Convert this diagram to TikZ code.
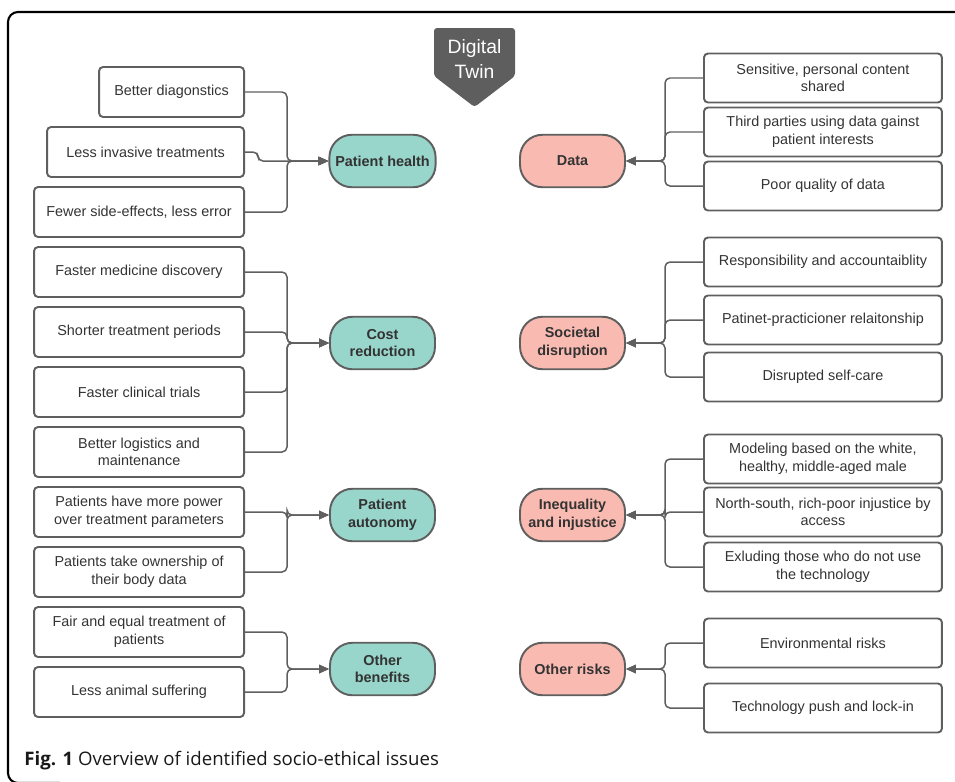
\documentclass[tikz,border=0pt]{standalone}
\usepackage{xcolor}
\usepackage{fontspec}
\setmainfont{Liberation Sans}
\newfontfamily\captionfont{Open Sans}
\usepackage{tikz}
\usetikzlibrary{positioning,arrows.meta}

\definecolor{boxgray}{HTML}{5F5F5F}
\definecolor{textgray}{HTML}{333333}
\definecolor{twingray}{HTML}{5E5E5E}
\definecolor{benefitfill}{HTML}{98D5CA}
\definecolor{riskfill}{HTML}{F9BAB1}

\begin{document}
\begin{tikzpicture}[x=0.02cm, y=-0.02cm, align=center,
    font=\fontsize{8.2}{10}\selectfont,
    item/.style={draw=boxgray, line width=1.1pt, rounded corners=0.08cm, minimum height=1cm, text=textgray, inner sep=1pt},
    good/.style={draw=boxgray, fill=benefitfill, line width=1.1pt, rounded corners=0.45cm, minimum width=2.1cm, minimum height=1.05cm, font=\fontsize{8.2}{10}\selectfont\bfseries, text=textgray},
    bad/.style={good, fill=riskfill},
    link/.style={draw=boxgray, line width=0.85pt, rounded corners=0.1cm, -{Triangle[length=0.2cm,width=0.17cm]}}]
    \useasboundingbox (0,0) rectangle (955,781);

    % frame and title
    \draw[line width=1.2pt, rounded corners=0.2cm] (955,12) -- (8,12) -- (8,783) -- (60,783);
    \fill[twingray, rounded corners=0.06cm] (434,28) -- (515,28) -- (515,76) -- (474.5,107) -- (434,76) -- cycle;
    \node[text=white, font=\fontsize{11}{14}\selectfont] (twin) at (474.5,59) {Digital\\Twin};

    % benefits
    \node[good] (health) at (382.5,161) {Patient health};
    \node[good] (cost) at (382.5,343) {Cost\\reduction};
    \node[good] (autonomy) at (382.5,515) {Patient\\autonomy};
    \node[good] (otherben) at (382.5,669) {Other\\benefits};

    \node[item, anchor=east, minimum width=2.9cm] (diag) at (245,92) {Better diagonstics};
    \node[item, anchor=east, minimum width=3.94cm] (invasive) at (245,152) {Less invasive treatments};
    \node[item, anchor=east, minimum width=4.2cm] (sideeff) at (245,212) {Fewer side-effects, less error};
    \node[item, anchor=east, minimum width=4.2cm] (medicine) at (245,272) {Faster medicine discovery};
    \node[item, anchor=east, minimum width=4.2cm] (shorter) at (245,332) {Shorter treatment periods};
    \node[item, anchor=east, minimum width=4.2cm] (trials) at (245,392) {Faster clinical trials};
    \node[item, anchor=east, minimum width=4.2cm] (logistics) at (245,452) {Better logistics and\\maintenance};
    \node[item, anchor=east, minimum width=4.2cm] (power) at (245,512) {Patients have more power\\over treatment parameters};
    \node[item, anchor=east, minimum width=4.2cm] (ownership) at (245,572) {Patients take ownership of\\their body data};
    \node[item, anchor=east, minimum width=4.2cm] (fair) at (245,632) {Fair and equal treatment of\\patients};
    \node[item, anchor=east, minimum width=4.2cm] (animal) at (245,692) {Less animal suffering};

    \foreach \b in {diag,sideeff}
        \draw[link] (\b.east) -- ++(42,0) |- (health.west);
    \draw[link] (invasive.east) -- ++(13,0) |- (health.west);
    \foreach \b in {medicine,shorter,trials,logistics}
        \draw[link] (\b.east) -- ++(42,0) |- (cost.west);
    \foreach \b in {power,ownership}
        \draw[link] (\b.east) -- ++(42,0) |- (autonomy.west);
    \foreach \b in {fair,animal}
        \draw[link] (\b.east) -- ++(42,0) |- (otherben.west);

    % risks
    \node[bad] (data) at (572.5,161) {Data};
    \node[bad] (societal) at (572.5,343) {Societal\\disruption};
    \node[bad] (inequality) at (572.5,515) {Inequality\\and injustice};
    \node[bad] (otherrisk) at (572.5,669) {Other risks};

    \node[item, anchor=west, minimum width=4.76cm, minimum height=0.98cm] (sensitive) at (703,78) {Sensitive, personal content\\shared};
    \node[item, anchor=west, minimum width=4.76cm, minimum height=0.98cm] (thirdparty) at (703,132) {Third parties using data gainst\\patient interests};
    \node[item, anchor=west, minimum width=4.76cm, minimum height=0.98cm] (quality) at (703,186) {Poor quality of data};
    \node[item, anchor=west, minimum width=4.76cm, minimum height=0.98cm] (responsible) at (703,262) {Responsibility and accountaiblity};
    \node[item, anchor=west, minimum width=4.76cm, minimum height=0.98cm] (relation) at (703,320) {Patinet-practicioner relaitonship};
    \node[item, anchor=west, minimum width=4.76cm, minimum height=0.98cm] (selfcare) at (703,377) {Disrupted self-care};
    \node[item, anchor=west, minimum width=4.76cm, minimum height=0.98cm] (modeling) at (703,459) {Modeling based on the white,\\healthy, middle-aged male};
    \node[item, anchor=west, minimum width=4.76cm, minimum height=0.98cm] (access) at (703,512) {North-south, rich-poor injustice by\\access};
    \node[item, anchor=west, minimum width=4.76cm, minimum height=0.98cm] (excluding) at (703,567) {Exluding those who do not use\\the technology};
    \node[item, anchor=west, minimum width=4.76cm, minimum height=0.98cm] (environment) at (703,643) {Environmental risks};
    \node[item, anchor=west, minimum width=4.76cm, minimum height=0.98cm] (lockin) at (703,708) {Technology push and lock-in};

    \foreach \b in {sensitive,thirdparty,quality}
        \draw[link] (\b.west) -- ++(-38,0) |- (data.east);
    \foreach \b in {responsible,relation,selfcare}
        \draw[link] (\b.west) -- ++(-38,0) |- (societal.east);
    \foreach \b in {modeling,access,excluding}
        \draw[link] (\b.west) -- ++(-38,0) |- (inequality.east);
    \foreach \b in {environment,lockin}
        \draw[link] (\b.west) -- ++(-38,0) |- (otherrisk.east);

    % caption
    \node[anchor=west, inner sep=0pt, text=black!90, font=\captionfont\fontsize{10.6}{13}\selectfont] (caption) at (24,761) {\textbf{Fig. 1} Overview of identified socio-ethical issues};
\end{tikzpicture}
\end{document}
